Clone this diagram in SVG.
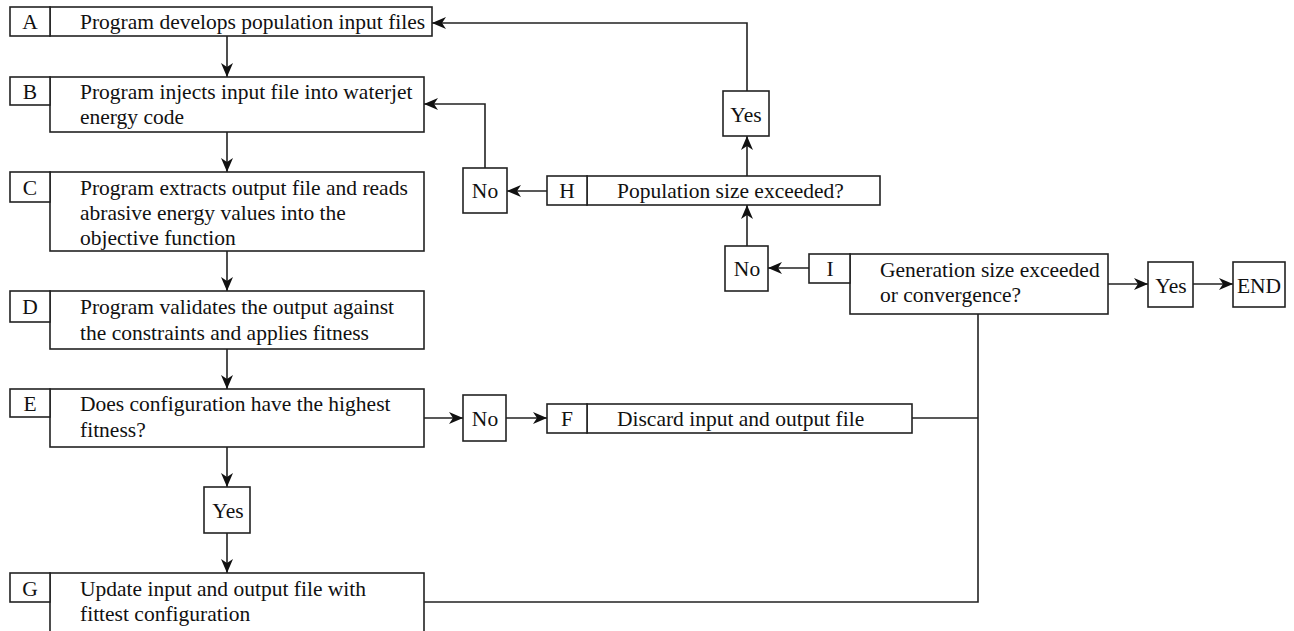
<svg xmlns="http://www.w3.org/2000/svg" width="1294" height="631" viewBox="0 0 1294 631">
<style>
.box{fill:#fff;stroke:#222;stroke-width:1.6}
.t{font-family:"Liberation Serif","Times New Roman",serif;font-size:21.5px;fill:#111}
.c{text-anchor:middle}
.ln{fill:none;stroke:#222;stroke-width:1.6}
.ar{fill:none;stroke:#222;stroke-width:1.6;marker-end:url(#ah)}
</style>
<defs>
<marker id="ah" viewBox="0 0 14 12" refX="14" refY="6" markerWidth="14" markerHeight="12" markerUnits="userSpaceOnUse" orient="auto">
<path d="M0,0 L14,6 L0,12 L4,6 z" fill="#111"/>
</marker>
</defs>
<rect width="1294" height="631" fill="#fff"/>

<g id="connectors">
<path class="ar" d="M227,36 V77"/>
<path class="ar" d="M227,132 V172"/>
<path class="ar" d="M227,251 V291"/>
<path class="ar" d="M227,349 V389"/>
<path class="ar" d="M227,447 V487"/>
<path class="ar" d="M227,533 V573"/>
<path class="ar" d="M424,418 H463"/>
<path class="ar" d="M506,418 H547"/>
<path class="ln" d="M912,418 H978"/>
<path class="ln" d="M424,602 H978 V314"/>
<path class="ar" d="M809,268 H768"/>
<path class="ar" d="M747,246 V205"/>
<path class="ar" d="M747,176 V136"/>
<path class="ar" d="M747,91 V23 H432"/>
<path class="ar" d="M547,191 H507"/>
<path class="ar" d="M485,168 V104 H424"/>
<path class="ar" d="M1108,284 H1148"/>
<path class="ar" d="M1193,284 H1233"/>
</g>

<g id="nodeA">
<rect class="box" x="50" y="7" width="382" height="29"/>
<rect class="box" x="10" y="7" width="40" height="29"/>
<text class="t c" x="30" y="29">A</text>
<text class="t" x="80" y="29">Program develops population input files</text>
</g>

<g id="nodeB">
<rect class="box" x="50" y="77" width="374" height="55"/>
<rect class="box" x="10" y="77" width="40" height="28"/>
<text class="t c" x="30" y="99">B</text>
<text class="t" x="80" y="99">Program injects input file into waterjet</text>
<text class="t" x="80" y="124">energy code</text>
</g>

<g id="nodeC">
<rect class="box" x="50" y="172" width="374" height="79"/>
<rect class="box" x="10" y="172" width="40" height="30"/>
<text class="t c" x="30" y="195">C</text>
<text class="t" x="80" y="195">Program extracts output file and reads</text>
<text class="t" x="80" y="220">abrasive energy values into the</text>
<text class="t" x="80" y="245">objective function</text>
</g>

<g id="nodeD">
<rect class="box" x="50" y="291" width="374" height="58"/>
<rect class="box" x="10" y="291" width="40" height="31"/>
<text class="t c" x="30" y="314">D</text>
<text class="t" x="80" y="314">Program validates the output against</text>
<text class="t" x="80" y="340">the constraints and applies fitness</text>
</g>

<g id="nodeE">
<rect class="box" x="50" y="389" width="374" height="58"/>
<rect class="box" x="10" y="389" width="40" height="28"/>
<text class="t c" x="30" y="411">E</text>
<text class="t" x="80" y="411">Does configuration have the highest</text>
<text class="t" x="80" y="437">fitness?</text>
</g>

<g id="yesE">
<rect class="box" x="204" y="487" width="46" height="46"/>
<text class="t c" x="228" y="518">Yes</text>
</g>

<g id="nodeG">
<rect class="box" x="50" y="573" width="374" height="60"/>
<rect class="box" x="10" y="573" width="40" height="29"/>
<text class="t c" x="30" y="596">G</text>
<text class="t" x="80" y="596">Update input and output file with</text>
<text class="t" x="80" y="621">fittest configuration</text>
</g>

<g id="noE">
<rect class="box" x="463" y="395" width="43" height="46"/>
<text class="t c" x="485" y="426">No</text>
</g>

<g id="nodeF">
<rect class="box" x="587" y="404" width="325" height="29"/>
<rect class="box" x="547" y="404" width="40" height="29"/>
<text class="t c" x="567" y="426">F</text>
<text class="t" x="617" y="426">Discard input and output file</text>
</g>

<g id="nodeH">
<rect class="box" x="587" y="176" width="293" height="29"/>
<rect class="box" x="547" y="176" width="40" height="29"/>
<text class="t c" x="567" y="198">H</text>
<text class="t" x="617" y="198">Population size exceeded?</text>
</g>

<g id="noH">
<rect class="box" x="463" y="168" width="44" height="45"/>
<text class="t c" x="485" y="198">No</text>
</g>

<g id="yesH">
<rect class="box" x="723" y="91" width="46" height="45"/>
<text class="t c" x="746" y="122">Yes</text>
</g>

<g id="noI">
<rect class="box" x="725" y="246" width="43" height="45"/>
<text class="t c" x="747" y="276">No</text>
</g>

<g id="nodeI">
<rect class="box" x="850" y="254" width="258" height="60"/>
<rect class="box" x="809" y="254" width="41" height="29"/>
<text class="t c" x="830" y="276">I</text>
<text class="t" x="880" y="277">Generation size exceeded</text>
<text class="t" x="880" y="302">or convergence?</text>
</g>

<g id="yesI">
<rect class="box" x="1148" y="262" width="45" height="45"/>
<text class="t c" x="1171" y="293">Yes</text>
</g>

<g id="end">
<rect class="box" x="1233" y="262" width="52" height="45"/>
<text class="t c" x="1259" y="293">END</text>
</g>
</svg>
